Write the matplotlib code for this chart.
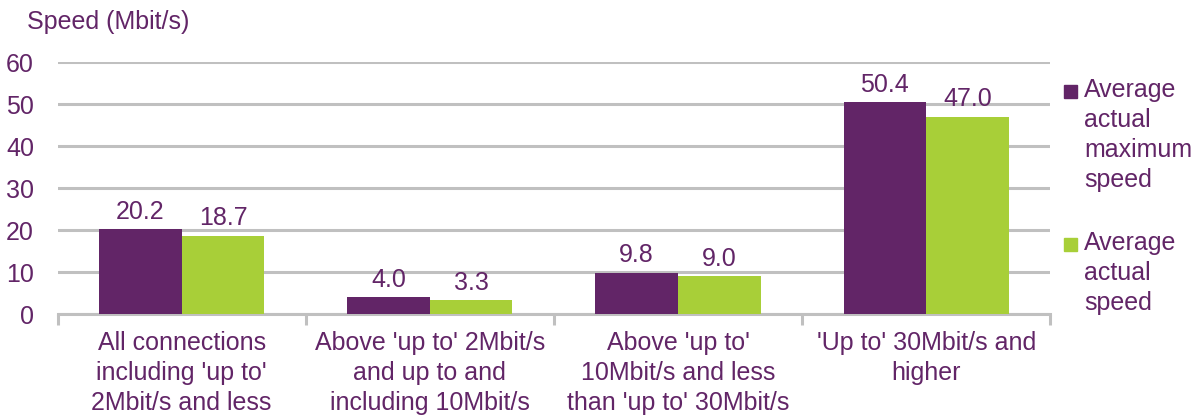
import matplotlib.pyplot as plt
import numpy as np
from matplotlib.patches import Rectangle

plt.rcParams['font.family'] = ['Liberation Sans', 'DejaVu Sans']

categories = ["All connections\nincluding 'up to'\n2Mbit/s and less",
              "Above 'up to' 2Mbit/s\nand up to and\nincluding 10Mbit/s",
              "Above 'up to'\n10Mbit/s and less\nthan 'up to' 30Mbit/s",
              "'Up to' 30Mbit/s and\nhigher"]
max_speed = [20.2, 4.0, 9.8, 50.4]
actual_speed = [18.7, 3.3, 9.0, 47.0]
series_names = ["Average\nactual\nmaximum\nspeed", "Average\nactual\nspeed"]

purple = "#622567"
green = "#A8CF38"
grid = "#C0C0C0"
fs = 18

fig = plt.figure(figsize=(11.99, 4.17), dpi=100)
ax = fig.add_axes([0.048, 0.247, 0.828, 0.604])

x = np.arange(len(categories))
w = 0.333
ax.bar(x - w / 2, max_speed, w, color=purple, zorder=3)
ax.bar(x + w / 2, actual_speed, w, color=green, zorder=3)

for xi, v in zip(x - w / 2, max_speed):
    ax.annotate(f"{v:.1f}", (xi, v), xytext=(0, 4), textcoords="offset points",
                ha="center", va="bottom", color=purple, fontsize=fs)
for xi, v in zip(x + w / 2, actual_speed):
    ax.annotate(f"{v:.1f}", (xi, v), xytext=(0, 4), textcoords="offset points",
                ha="center", va="bottom", color=purple, fontsize=fs)

ax.set_xlim(-0.5, len(categories) - 0.5)
ax.set_ylim(0, 60)
ax.set_yticks(range(0, 61, 10))
ax.yaxis.grid(True, color=grid, linewidth=2.2, zorder=0)
ax.tick_params(axis="y", length=0, pad=17, labelsize=fs, labelcolor=purple)

ax.set_xticks(x)
ax.set_xticklabels(categories, fontsize=fs, color=purple, linespacing=1.32)
ax.tick_params(axis="x", which="major", length=0, pad=12)
ax.set_xticks(np.arange(-0.5, len(categories), 1), minor=True)
ax.tick_params(axis="x", which="minor", length=8, width=2.2, color=grid)

for s in ["top", "right", "left"]:
    ax.spines[s].set_visible(False)
ax.spines["bottom"].set_color(grid)
ax.spines["bottom"].set_linewidth(2.2)

fig.text(27 / 1199, 1 - 22 / 417, "Speed (Mbit/s)", fontsize=fs, color=purple,
         ha="left", va="center")

# legend drawn by hand so the swatch sits next to the first line
for name, col, ytop in zip(series_names, [purple, green], [92, 245]):
    fig.patches.append(Rectangle((1064 / 1199, 1 - (ytop + 6) / 417), 13 / 1199, 13 / 417,
                                 transform=fig.transFigure, color=col))
    fig.text(1084 / 1199, 1 - (ytop - 14) / 417, name, fontsize=fs, color=purple,
             ha="left", va="top", linespacing=1.32)

fig.savefig("out.png", dpi=100)
